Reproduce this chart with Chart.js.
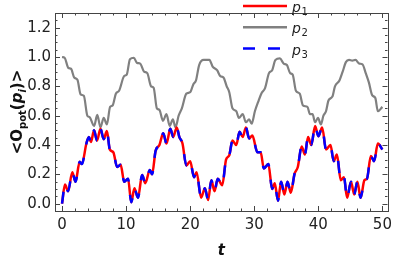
<!DOCTYPE html>
<html>
<head>
<meta charset="utf-8">
<script src="https://cdn.jsdelivr.net/npm/chart.js@4"></script>
<style>
  html, body { margin: 0; padding: 0; background: #fff; }
  #wrap { width: 397px; height: 259px; }
</style>
</head>
<body>
<div id="wrap"><canvas id="chart" width="397" height="259"></canvas></div>
<script>
// time points and values
const tP1 = [0, 0.45, 0.95, 1.6, 2.1, 2.75, 3.1, 3.8, 4.2, 4.5, 5.0, 5.45, 6.0, 6.5, 7.0, 7.45, 8.0, 8.6, 9.15, 9.7,
    10.3, 10.8, 11.3, 11.85, 12.5, 13.0, 13.7, 14.05, 14.6, 15.2, 15.8, 16.3, 16.9, 17.35, 17.9, 18.3, 18.8, 19.4, 20.0,
    20.6, 21.0, 21.7, 22.3, 22.8, 23.3, 23.8, 24.3, 25.0, 25.6, 26.1, 26.6, 27.2, 27.7, 28.2, 28.7, 29.2, 29.7, 30.5,
    31.0, 31.5, 32.2, 32.8, 33.2, 33.7, 34.2, 34.7, 35.2, 35.7, 36.3, 36.8, 37.4, 37.9, 38.4, 38.9, 39.5, 40.0, 40.6,
    41.2, 41.9, 42.4, 42.9, 43.5, 44.0, 44.5, 45.1, 45.6, 46.1, 46.6, 47.2, 47.6, 48.2, 48.7, 49.3, 50.0];
const p1 = [0, 0.13, 0.085, 0.215, 0.15, 0.285, 0.27, 0.41, 0.455, 0.42, 0.50, 0.43, 0.51, 0.44, 0.495, 0.37, 0.35, 0.25, 0.265, 0.15,
    0.17, 0.01, 0.105, 0.04, 0.195, 0.14, 0.23, 0.20, 0.36, 0.40, 0.48, 0.41, 0.51, 0.455, 0.52, 0.455, 0.41, 0.26, 0.29,
    0.18, 0.215, 0.04, 0.105, 0.025, 0.16, 0.085, 0.17, 0.125, 0.30, 0.33, 0.43, 0.40, 0.49, 0.455, 0.52, 0.445, 0.465, 0.35,
    0.35, 0.24, 0.27, 0.10, 0.14, 0.02, 0.15, 0.063, 0.15, 0.074, 0.205, 0.25, 0.39, 0.335, 0.455, 0.40, 0.53, 0.46, 0.52,
    0.37, 0.40, 0.29, 0.335, 0.16, 0.18, 0.04, 0.15, 0.063, 0.15, 0.04, 0.16, 0.17, 0.325, 0.29, 0.41, 0.37];
const p3 = [0, 0.13, 0.085, 0.215, 0.15, 0.285, 0.27, 0.41, 0.455, 0.42, 0.50, 0.43, 0.51, 0.44, 0.495, 0.37, 0.35, 0.25, 0.265, 0.15,
    0.17, 0.01, 0.105, 0.04, 0.195, 0.14, 0.23, 0.20, 0.36, 0.40, 0.48, 0.41, 0.51, 0.455, 0.52, 0.455, 0.41, 0.26, 0.29,
    0.18, 0.215, 0.04, 0.105, 0.025, 0.16, 0.085, 0.17, 0.125, 0.30, 0.33, 0.43, 0.40, 0.49, 0.455, 0.52, 0.445, 0.465, 0.35,
    0.35, 0.24, 0.27, 0.10, 0.14, 0.02, 0.15, 0.063, 0.15, 0.074, 0.205, 0.25, 0.39, 0.335, 0.455, 0.40, 0.53, 0.46, 0.52,
    0.37, 0.40, 0.29, 0.335, 0.16, 0.18, 0.04, 0.15, 0.063, 0.15, 0.04, 0.16, 0.17, 0.325, 0.29, 0.41, 0.37];

const tP2 = [0, 0.4, 1.0, 1.4, 1.9, 2.4, 2.9, 3.4, 3.95, 4.3, 5.0, 5.5, 6.0, 6.5, 7.0, 7.5, 7.9, 8.4, 8.9, 9.7, 10.1,
    10.6, 11.2, 11.7, 12.2, 12.8, 13.3, 13.9, 14.3, 14.8, 15.2, 15.75, 16.3, 16.8, 17.3, 17.7, 18.2, 18.7, 19.4, 20.0,
    20.5, 20.9, 21.4, 22.1, 23.0, 23.5, 24.2, 24.7, 25.2, 25.7, 26.1, 26.6, 27.2, 27.6, 28.2, 28.7, 29.2, 29.6, 30.1,
    30.7, 31.1, 31.7, 32.3, 32.8, 33.3, 34.0, 34.6, 35.1, 35.6, 36.0, 36.5, 37.1, 37.6, 38.3, 38.7, 39.1, 39.5, 39.95,
    40.4, 40.8, 41.2, 41.6, 42.2, 42.6, 43.3, 43.8, 44.3, 44.8, 45.3, 45.8, 46.4, 46.9, 47.4, 47.9, 48.4, 48.9, 49.3, 50.0];
const p2 = [1.0, 0.995, 0.925, 0.92, 0.86, 0.845, 0.745, 0.735, 0.60, 0.59, 0.53, 0.605, 0.52, 0.585, 0.54, 0.66, 0.67, 0.75, 0.77, 0.87, 0.88,
    0.985, 0.995, 0.96, 0.955, 0.90, 0.89, 0.80, 0.79, 0.65, 0.64, 0.565, 0.61, 0.53, 0.575, 0.52, 0.60, 0.65, 0.75, 0.76,
    0.815, 0.84, 0.945, 0.98, 0.98, 0.935, 0.91, 0.87, 0.86, 0.80, 0.76, 0.65, 0.63, 0.585, 0.61, 0.555, 0.575, 0.545, 0.63,
    0.705, 0.75, 0.79, 0.89, 0.91, 0.98, 0.99, 0.955, 0.945, 0.89, 0.88, 0.77, 0.75, 0.67, 0.66, 0.61, 0.61, 0.555, 0.585,
    0.54, 0.60, 0.63, 0.705, 0.73, 0.80, 0.84, 0.90, 0.965, 0.98, 0.975, 0.98, 0.955, 0.95, 0.89, 0.825, 0.74, 0.72, 0.63, 0.66];

const xTicks = [0, 10, 20, 30, 40, 50];
const yTicks = [0.0, 0.2, 0.4, 0.6, 0.8, 1.0, 1.2];
const seriesNames = ['1', '2', '3'];

const FONT = '"DejaVu Sans", sans-serif';
const toXY = (ts, vs) => ts.map((t, i) => ({ x: t, y: vs[i] }));

// frame, inward ticks, legend and axis titles
const decorations = {
    id: 'decorations',
    afterDraw(chart) {
        const ctx = chart.ctx;
        const { left, right, top, bottom } = chart.chartArea;
        const xs = chart.scales.x, ys = chart.scales.y;
        ctx.save();
        ctx.strokeStyle = '#444';
        ctx.lineWidth = 1;
        ctx.strokeRect(Math.round(left) + 0.5, Math.round(top) + 0.5, Math.round(right - left), Math.round(bottom - top));

        const tick = (x1, y1, x2, y2) => {
            ctx.beginPath(); ctx.moveTo(x1, y1); ctx.lineTo(x2, y2); ctx.stroke();
        };
        for (let k = 0; k <= 25; k++) {
            const v = k * 2;
            const len = v % 10 === 0 ? 5 : 2.5;
            const px = Math.round(xs.getPixelForValue(v)) + 0.5;
            tick(px, bottom, px, bottom - len);
            tick(px, top, px, top + len);
        }
        for (let k = -1; k <= 26; k++) {
            const v = k * 0.05;
            const len = k % 4 === 0 ? 5 : 2.5;
            const py = Math.round(ys.getPixelForValue(v)) + 0.5;
            if (py < top || py > bottom + 1) continue;
            tick(left, py, left + len, py);
            tick(right, py, right - len, py);
        }

        // legend
        const styles = [
            { color: '#ff0000', dash: [] },
            { color: '#808080', dash: [] },
            { color: '#0000ff', dash: [12, 13] }
        ];
        seriesNames.forEach((name, i) => {
            const y = 6 + i * 21.3;
            ctx.strokeStyle = styles[i].color;
            ctx.lineWidth = 2.5;
            ctx.setLineDash(styles[i].dash);
            tick(243, y, 287, y);
            ctx.setLineDash([]);
            ctx.fillStyle = '#222';
            ctx.textBaseline = 'alphabetic';
            ctx.textAlign = 'left';
            ctx.font = 'italic 14px ' + FONT;
            ctx.fillText('p', 292, y + 6);
            const w = ctx.measureText('p').width;
            ctx.font = '10px ' + FONT;
            ctx.fillText(name, 292 + w + 0.5, y + 9);
        });

        // x title
        ctx.fillStyle = '#111';
        ctx.font = 'italic bold 15px ' + FONT;
        ctx.textAlign = 'center';
        ctx.fillText('t', (left + right) / 2, 255);

        // y title
        const parts = [
            ['<', 'bold 15px', 0], ['O', 'bold 15px', 0], ['pot', 'bold 10px', 4],
            ['(', 'bold 15px', 0], ['p', 'italic bold 15px', 0], ['i', 'italic bold 10px', 4],
            [')', 'bold 15px', 0], ['>', 'bold 15px', 0]
        ];
        let total = 0;
        parts.forEach(p => { ctx.font = p[1] + ' ' + FONT; total += ctx.measureText(p[0]).width; });
        ctx.translate(17, (top + bottom) / 2);
        ctx.rotate(-Math.PI / 2);
        ctx.textAlign = 'left';
        let cx = -total / 2;
        parts.forEach(p => {
            ctx.font = p[1] + ' ' + FONT;
            ctx.fillText(p[0], cx, 5 + p[2]);
            cx += ctx.measureText(p[0]).width;
        });
        ctx.restore();
    }
};

new Chart(document.getElementById('chart'), {
    type: 'line',
    data: {
        datasets: [
            { label: 'p1', data: toXY(tP1, p1), borderColor: '#ff0000', borderWidth: 2.5, order: 2 },
            { label: 'p2', data: toXY(tP2, p2), borderColor: '#808080', borderWidth: 2.2, order: 3 },
            { label: 'p3', data: toXY(tP1, p3), borderColor: '#0000ff', borderWidth: 2.5, borderDash: [12, 13], order: 1 }
        ]
    },
    options: {
        responsive: false,
        animation: false,
        devicePixelRatio: 1,
        layout: { padding: { top: 4, right: 5, left: 0, bottom: 0 } },
        elements: {
            point: { radius: 0 },
            line: { cubicInterpolationMode: 'monotone', fill: false }
        },
        plugins: { legend: { display: false }, tooltip: { enabled: false } },
        scales: {
            x: {
                type: 'linear',
                min: -1.1,
                max: 50.8,
                afterBuildTicks: s => { s.ticks = xTicks.map(v => ({ value: v })); },
                afterFit: s => { s.height = 48; },
                grid: { display: false, drawTicks: false },
                border: { display: false },
                ticks: { color: '#222', font: { family: FONT, size: 15 }, padding: 5, maxRotation: 0 }
            },
            y: {
                type: 'linear',
                min: -0.05,
                max: 1.3,
                afterBuildTicks: s => { s.ticks = yTicks.map(v => ({ value: v })); },
                afterFit: s => { s.width = 55; },
                grid: { display: false, drawTicks: false },
                border: { display: false },
                ticks: { color: '#222', font: { family: FONT, size: 15 }, padding: 4, callback: v => v.toFixed(1) }
            }
        }
    },
    plugins: [decorations]
});
</script>
</body>
</html>
